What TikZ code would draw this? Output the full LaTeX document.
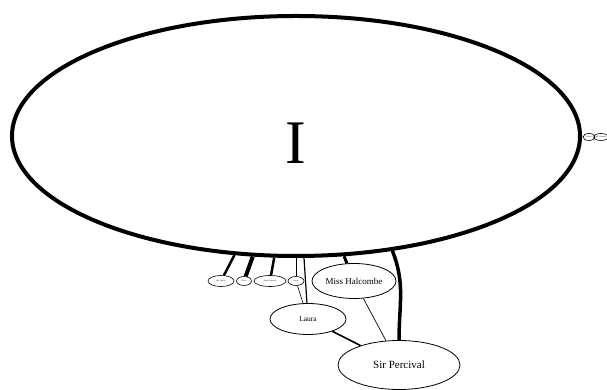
\documentclass[tikz,border=0pt]{standalone}
\usepackage{fontspec}
\setmainfont{Liberation Serif}
\usetikzlibrary{shapes.geometric}

\begin{document}
\begin{tikzpicture}[
    x=1pt, y=1pt,
    person/.style={ellipse, draw, line width=0.8pt, inner sep=0pt, align=center},
    tiny/.style={person, line width=0.6pt, font=\fontsize{2}{2}\selectfont},
    link/.style={line width=#1}
]
\useasboundingbox (0,0) rectangle (607,390);

\node[person, line width=4pt, minimum width=568, minimum height=240,
      font=\fontsize{62}{62}\selectfont] (narrator) at (296,254) {\raisebox{-7pt}[0.66em][0pt]{I}};

\node[tiny, minimum width=26, minimum height=11] (fairlie) at (221,109) {Mr. Fairlie};
\node[tiny, minimum width=15, minimum height=9] (fosco) at (244,109) {Fosco};
\node[tiny, minimum width=32, minimum height=11] (anne) at (270,109) {Anne Catherick};
\node[tiny, minimum width=16, minimum height=9] (pesca) at (296,109) {Pesca};
\node[person, minimum width=84, minimum height=35, font=\fontsize{9}{9}\selectfont] (halcombe) at (354,109) {Miss Halcombe};
\node[person, minimum width=76, minimum height=31, font=\fontsize{7.5}{7.5}\selectfont] (laura) at (308,71) {Laura};
\node[person, minimum width=122, minimum height=49, font=\fontsize{11}{11}\selectfont] (percival) at (399,25) {Sir Percival};

\node[tiny, minimum width=12, minimum height=7] (fanny) at (589,253) {Fanny};
\node[tiny, minimum width=14, minimum height=7] (gilmore) at (601,253) {Mr. Gilmore};

\draw[link=2.5pt] (narrator) -- (fairlie);
\draw[link=4pt] (narrator) -- (fosco);
\draw[link=2.5pt] (narrator) -- (anne);
\draw[link=0.8pt] (narrator) -- (pesca);
\draw[link=1.2pt] (narrator) -- (laura);
\draw[link=0.6pt] (pesca) -- (laura);
\draw[link=3pt] (narrator) -- (halcombe);
\draw[link=3.5pt] (narrator.-50) to[out=-68, in=90] (percival.north);
\draw[link=0.7pt] (halcombe) -- (percival);
\draw[link=1.6pt] (laura) -- (percival);
\draw[link=0.5pt] (narrator) -- (fanny);
\draw[link=0.5pt] (fanny) -- (gilmore);
\end{tikzpicture}
\end{document}
